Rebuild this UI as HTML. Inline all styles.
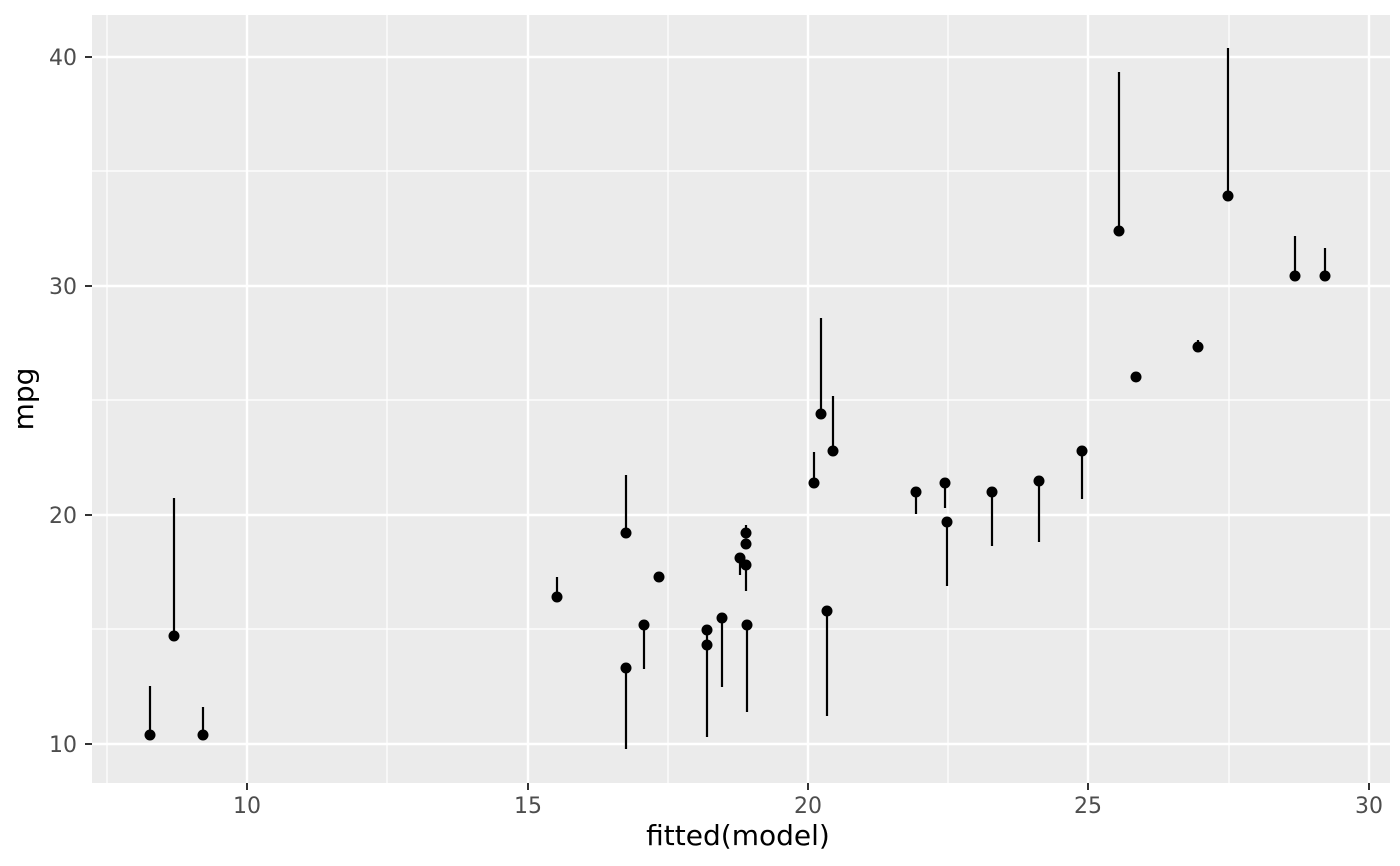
<!DOCTYPE html>
<html><head><meta charset="utf-8"><style>body{margin:0;background:#fff}svg{display:block}</style></head><body>
<svg width="1400" height="866" xmlns="http://www.w3.org/2000/svg" font-family="DejaVu Sans, sans-serif">
<rect x="92" y="15" width="1298" height="768" fill="#EBEBEB"/>
<g stroke="#fff" stroke-width="1.2">
<line x1="107" y1="15" x2="107" y2="783"/><line x1="387" y1="15" x2="387" y2="783"/><line x1="668" y1="15" x2="668" y2="783"/><line x1="948" y1="15" x2="948" y2="783"/><line x1="1229" y1="15" x2="1229" y2="783"/>
<line x1="92" y1="171" x2="1390" y2="171"/><line x1="92" y1="400" x2="1390" y2="400"/><line x1="92" y1="629" x2="1390" y2="629"/>
</g>
<g stroke="#fff" stroke-width="2.4">
<line x1="247" y1="15" x2="247" y2="783"/><line x1="528" y1="15" x2="528" y2="783"/><line x1="808" y1="15" x2="808" y2="783"/><line x1="1088" y1="15" x2="1088" y2="783"/><line x1="1369" y1="15" x2="1369" y2="783"/>
<line x1="92" y1="57" x2="1390" y2="57"/><line x1="92" y1="286" x2="1390" y2="286"/><line x1="92" y1="515" x2="1390" y2="515"/><line x1="92" y1="744" x2="1390" y2="744"/>
</g>
<g stroke="#000" stroke-width="2.2">
<line x1="150" y1="735" x2="150" y2="686"/><line x1="174" y1="636" x2="174" y2="498"/><line x1="203" y1="735" x2="203" y2="707"/>
<line x1="557" y1="597" x2="557" y2="577"/><line x1="626" y1="533" x2="626" y2="475"/><line x1="626" y1="668" x2="626" y2="749"/>
<line x1="644" y1="625" x2="644" y2="669"/><line x1="707" y1="630" x2="707" y2="737"/><line x1="722" y1="618" x2="722" y2="687"/>
<line x1="740" y1="558" x2="740" y2="575"/><line x1="746" y1="533" x2="746" y2="525"/><line x1="746" y1="565" x2="746" y2="591"/>
<line x1="747" y1="625" x2="747" y2="712"/><line x1="814" y1="483" x2="814" y2="452"/><line x1="821" y1="414" x2="821" y2="318"/>
<line x1="827" y1="611" x2="827" y2="716"/><line x1="833" y1="451" x2="833" y2="396"/><line x1="916" y1="492" x2="916" y2="514"/>
<line x1="945" y1="483" x2="945" y2="508"/><line x1="947" y1="522" x2="947" y2="586"/><line x1="992" y1="492" x2="992" y2="546"/>
<line x1="1039" y1="481" x2="1039" y2="542"/><line x1="1082" y1="451" x2="1082" y2="499"/><line x1="1119" y1="231" x2="1119" y2="72"/>
<line x1="1198" y1="347" x2="1198" y2="340"/><line x1="1228" y1="196" x2="1228" y2="48"/><line x1="1295" y1="276" x2="1295" y2="236"/>
<line x1="1325" y1="276" x2="1325" y2="248"/>
</g>
<g fill="#000">
<circle cx="150" cy="735" r="5.5"/><circle cx="174" cy="636" r="5.5"/><circle cx="203" cy="735" r="5.5"/>
<circle cx="557" cy="597" r="5.5"/><circle cx="626" cy="533" r="5.5"/><circle cx="626" cy="668" r="5.5"/>
<circle cx="644" cy="625" r="5.5"/><circle cx="659" cy="577" r="5.5"/><circle cx="707" cy="630" r="5.5"/><circle cx="707" cy="645" r="5.5"/>
<circle cx="722" cy="618" r="5.5"/><circle cx="740" cy="558" r="5.5"/><circle cx="746" cy="533" r="5.5"/><circle cx="746" cy="544" r="5.5"/>
<circle cx="746" cy="565" r="5.5"/><circle cx="747" cy="625" r="5.5"/><circle cx="814" cy="483" r="5.5"/><circle cx="821" cy="414" r="5.5"/>
<circle cx="827" cy="611" r="5.5"/><circle cx="833" cy="451" r="5.5"/><circle cx="916" cy="492" r="5.5"/><circle cx="945" cy="483" r="5.5"/>
<circle cx="947" cy="522" r="5.5"/><circle cx="992" cy="492" r="5.5"/><circle cx="1039" cy="481" r="5.5"/><circle cx="1082" cy="451" r="5.5"/>
<circle cx="1119" cy="231" r="5.5"/><circle cx="1136" cy="377" r="5.5"/><circle cx="1198" cy="347" r="5.5"/><circle cx="1228" cy="196" r="5.5"/>
<circle cx="1295" cy="276" r="5.5"/><circle cx="1325" cy="276" r="5.5"/>
</g>
<g stroke="#333" stroke-width="2">
<line x1="247" y1="783" x2="247" y2="790"/><line x1="528" y1="783" x2="528" y2="790"/><line x1="808" y1="783" x2="808" y2="790"/><line x1="1088" y1="783" x2="1088" y2="790"/><line x1="1369" y1="783" x2="1369" y2="790"/>
<line x1="85" y1="57" x2="92" y2="57"/><line x1="85" y1="286" x2="92" y2="286"/><line x1="85" y1="515" x2="92" y2="515"/><line x1="85" y1="744" x2="92" y2="744"/>
</g>
<g fill="#4D4D4D" font-size="22" text-anchor="middle">
<text x="247" y="813">10</text><text x="528" y="813">15</text><text x="808" y="813">20</text><text x="1088" y="813">25</text><text x="1369" y="813">30</text>
</g>
<g fill="#4D4D4D" font-size="22" text-anchor="end">
<text x="77" y="65">40</text><text x="77" y="294">30</text><text x="77" y="523">20</text><text x="77" y="752">10</text>
</g>
<text x="738" y="845" font-size="28" text-anchor="middle">fitted(model)</text>
<text transform="translate(33,399) rotate(-90)" font-size="28" text-anchor="middle">mpg</text>
</svg>
</body></html>
